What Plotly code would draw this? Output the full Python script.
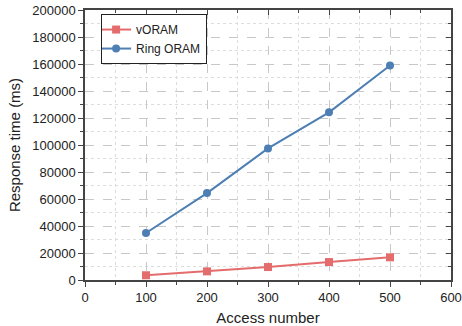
import plotly.graph_objects as go

access = [100, 200, 300, 400, 500]
voram = [3500, 6400, 9600, 13300, 16800]
ring_oram = [34800, 64400, 97500, 124200, 158900]

RED = "#E46C6C"
BLUE = "#4D7FB4"
FONT = "Liberation Sans, Arial, sans-serif"

fig = go.Figure()
fig.add_trace(go.Scatter(x=access, y=voram, name="vORAM", mode="lines+markers",
                         line=dict(color=RED, width=2),
                         marker=dict(symbol="square", size=8, color=RED)))
fig.add_trace(go.Scatter(x=access, y=ring_oram, name="Ring ORAM", mode="lines+markers",
                         line=dict(color=BLUE, width=2),
                         marker=dict(symbol="circle", size=8, color=BLUE)))
# dummy trace for mirrored inner ticks
fig.add_trace(go.Scatter(x=[None], y=[None], xaxis="x2", yaxis="y2", showlegend=False, hoverinfo="skip"))

grid_major = dict(showgrid=True, gridcolor="#C8C8C8", griddash="dash", gridwidth=1)
fig.update_layout(
    width=462, height=326,
    margin=dict(l=85, r=11, t=10, b=46),
    paper_bgcolor="white", plot_bgcolor="white",
    font=dict(family=FONT, size=13, color="#222"),
    showlegend=True,
    legend=dict(x=0.044, y=0.985, xanchor="left", yanchor="top",
                bordercolor="#222", borderwidth=1, bgcolor="white",
                font=dict(size=12, family=FONT, color="#222"),
                tracegroupgap=0, itemwidth=30, indentation=-6),
    xaxis=dict(range=[0, 600], dtick=100, tick0=0, ticks="outside", ticklen=5,
               tickcolor="#444", linecolor="#444", linewidth=1.5, showline=True,
               zeroline=False, automargin=False,
               title=dict(text="Access number", font=dict(size=15), standoff=10),
               tickfont=dict(size=13), tickformat="d",
               minor=dict(dtick=50, ticks="outside", ticklen=3, tickcolor="#444",
                          showgrid=True, gridcolor="#DDDDDD", griddash="dot"),
               **grid_major),
    yaxis=dict(range=[0, 200000], dtick=20000, tick0=0, ticks="outside", ticklen=5,
               tickcolor="#444", linecolor="#444", linewidth=1.5, showline=True,
               zeroline=False, automargin=False,
               title=dict(text="Response time (ms)", font=dict(size=15), standoff=8),
               tickfont=dict(size=13), tickformat="d",
               minor=dict(dtick=10000, ticks="outside", ticklen=3, tickcolor="#444",
                          showgrid=True, gridcolor="#DDDDDD", griddash="dot"),
               **grid_major),
    xaxis2=dict(overlaying="x", side="top", range=[0, 600], dtick=100, tick0=0,
                ticks="inside", ticklen=5, tickcolor="#444", showline=True,
                linecolor="#444", linewidth=1.5, showticklabels=False, showgrid=False,
                zeroline=False,
                minor=dict(dtick=50, ticks="inside", ticklen=3, tickcolor="#444")),
    yaxis2=dict(overlaying="y", side="right", range=[0, 200000], dtick=20000, tick0=0,
                ticks="inside", ticklen=5, tickcolor="#444", showline=True,
                linecolor="#444", linewidth=1.5, showticklabels=False, showgrid=False,
                zeroline=False,
                minor=dict(dtick=10000, ticks="inside", ticklen=3, tickcolor="#444")),
)

fig.write_html("out.html")
